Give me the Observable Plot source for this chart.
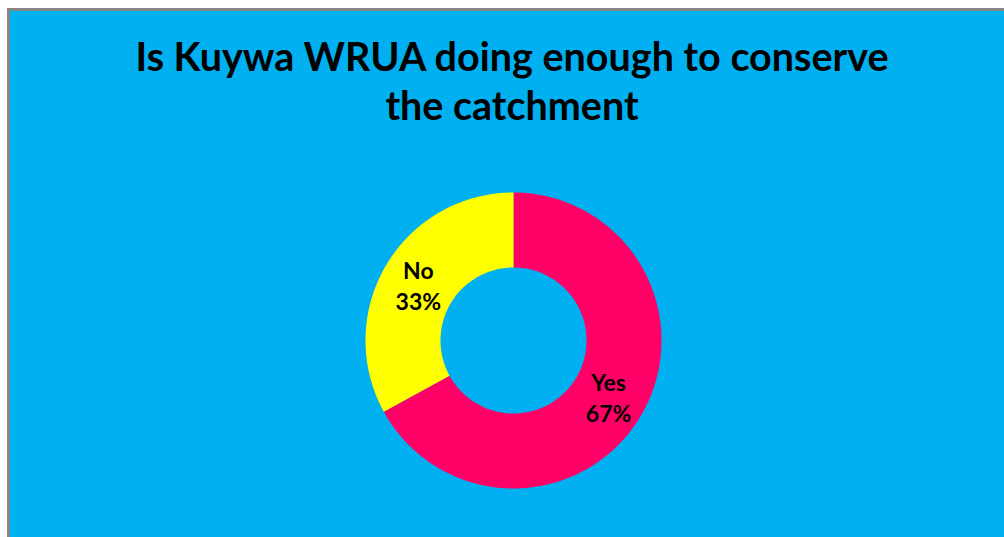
<!DOCTYPE html>
<html>
<head>
<meta charset="utf-8">
<script src="https://cdn.jsdelivr.net/npm/d3@7"></script>
<script src="https://cdn.jsdelivr.net/npm/@observablehq/plot@0.6"></script>
<style>
  html, body { margin: 0; padding: 0; width: 1004px; height: 537px; overflow: hidden; background: #ffffff; }
  #frame { position: absolute; left: 7px; top: 8px; width: 1000px; height: 532px;
           border-left: 3px solid #858585; border-top: 3px solid #858585; background: #00B0F0; }
  #title { position: absolute; left: 0; top: 31px; width: 1024px; text-align: center;
           font-family: Lato, "Open Sans", sans-serif; font-weight: 700; font-size: 39.5px; line-height: 49px; color: #000; }
  #plot { position: absolute; left: 313px; top: 140px; width: 400px; height: 400px; }
  #plot svg { background: transparent; }
</style>
</head>
<body>
<div id="frame"></div>
<div id="title">Is Kuywa WRUA doing enough to conserve<br>the catchment</div>
<div id="plot"></div>
<script>
const categories = ["Yes", "No"];
const values = [67, 33];
const labels = ["Yes\n67%", "No\n33%"];
const colors = ["#FF0066", "#FFFF00"];

const outerR = 148, innerR = 73;
const data = categories.map((c, i) => ({cat: c, value: values[i], label: labels[i]}));
const arcs = d3.pie().sort(null).value(d => d.value)(data);

const pts = [];
for (const a of arcs) {
  const n = 120;
  for (let k = 0; k <= n; k++) {
    const t = a.startAngle + (a.endAngle - a.startAngle) * k / n;
    pts.push({cat: a.data.cat, x: outerR * Math.sin(t), y: outerR * Math.cos(t)});
  }
  for (let k = n; k >= 0; k--) {
    const t = a.startAngle + (a.endAngle - a.startAngle) * k / n;
    pts.push({cat: a.data.cat, x: innerR * Math.sin(t), y: innerR * Math.cos(t)});
  }
}
const midR = (outerR + innerR) / 2;
const labelPts = arcs.map(a => {
  const m = (a.startAngle + a.endAngle) / 2;
  return {label: a.data.label, x: midR * Math.sin(m), y: midR * Math.cos(m)};
});

const chart = Plot.plot({
  width: 400, height: 400,
  margin: 0,
  x: {domain: [-200, 200], axis: null},
  y: {domain: [-200, 200], axis: null},
  color: {domain: categories, range: colors},
  style: {background: "transparent"},
  marks: [
    Plot.line(pts, {x: "x", y: "y", z: "cat", fill: "cat", stroke: "none", curve: "linear-closed"}),
    Plot.text(labelPts, {x: "x", y: "y", text: "label", fill: "#000",
      fontSize: 23, fontWeight: 700, fontFamily: "Lato, 'Open Sans', sans-serif", lineHeight: 1.36})
  ]
});
document.getElementById("plot").appendChild(chart);
</script>
</body>
</html>
